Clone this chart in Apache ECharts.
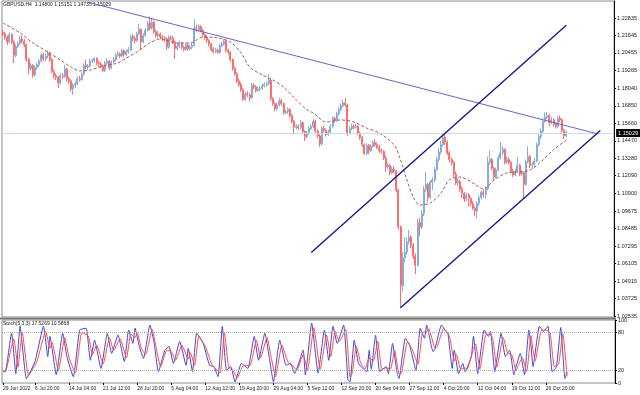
<!DOCTYPE html>
<html><head><meta charset="utf-8">
<script src="https://cdn.jsdelivr.net/npm/echarts@6/dist/echarts.min.js"></script>
<style>html,body{margin:0;padding:0;background:#fff}#c{width:640px;height:395px}</style>
</head><body><div id="c"></div>
<script>
// GBPUSD H4 candles, grouped two H4 bars per candle (29 Jun 2022 16:00 .. 1 Nov 2022)
const opens=[1.2185,1.2175,1.2150,1.2120,1.2170,1.2120,1.2030,1.2090,1.2110,1.2140,
1.2125,1.2100,1.2000,1.1940,1.1960,1.1895,1.1945,1.1965,1.1990,1.2030,
1.2005,1.2025,1.2045,1.2000,1.1920,1.1890,1.1880,1.1840,1.1890,1.1885,
1.1935,1.1870,1.1855,1.1800,1.1825,1.1835,1.1870,1.1865,1.1900,1.1960,
1.1950,1.1955,1.1990,1.1995,1.2010,1.1975,1.1970,1.1955,1.1925,1.1975,
1.1990,1.1945,1.1985,1.2000,1.2030,1.2040,1.2025,1.2060,1.2035,1.2055,
1.2065,1.2155,1.2145,1.2130,1.2175,1.2205,1.2120,1.2165,1.2200,1.2250,
1.2215,1.2255,1.2190,1.2165,1.2175,1.2155,1.2145,1.2140,1.2085,1.2150,
1.2145,1.2120,1.2075,1.2090,1.2115,1.2085,1.2070,1.2100,1.2075,1.2085,
1.2100,1.2215,1.2205,1.2225,1.2200,1.2170,1.2150,1.2130,1.2105,1.2070,
1.2055,1.2065,1.2050,1.2095,1.2105,1.2125,1.2065,1.2050,1.2000,1.1940,
1.1905,1.1855,1.1830,1.1795,1.1730,1.1765,1.1760,1.1740,1.1825,1.1815,
1.1790,1.1800,1.1805,1.1820,1.1830,1.1835,1.1860,1.1735,1.1700,1.1665,
1.1690,1.1720,1.1700,1.1640,1.1645,1.1660,1.1620,1.1580,1.1540,1.1545,
1.1535,1.1570,1.1510,1.1475,1.1500,1.1530,1.1545,1.1580,1.1515,1.1480,
1.1425,1.1530,1.1520,1.1490,1.1505,1.1545,1.1600,1.1585,1.1630,1.1660,
1.1685,1.1705,1.1690,1.1500,1.1530,1.1545,1.1540,1.1545,1.1500,1.1470,
1.1420,1.1360,1.1415,1.1380,1.1410,1.1435,1.1420,1.1405,1.1380,1.1375,
1.1330,1.1270,1.1280,1.1230,1.1255,1.1240,1.1110,1.0860,1.0460,1.0650,
1.0690,1.0760,1.0790,1.0735,1.0660,1.0600,1.0890,1.0860,1.0950,1.1115,
1.1150,1.1060,1.1165,1.1180,1.1250,1.1320,1.1370,1.1420,1.1470,1.1440,
1.1365,1.1320,1.1300,1.1220,1.1160,1.1170,1.1120,1.1090,1.1050,1.1080,
1.1055,1.1020,1.0990,1.0970,1.1020,1.1060,1.1095,1.1080,1.1120,1.1300,
1.1320,1.1260,1.1200,1.1250,1.1330,1.1365,1.1390,1.1300,1.1320,1.1300,
1.1240,1.1215,1.1240,1.1280,1.1220,1.1230,1.1150,1.1305,1.1340,1.1280,
1.1285,1.1310,1.1420,1.1475,1.1510,1.1580,1.1610,1.1620,1.1570,1.1590,
1.1560,1.1545,1.1600,1.1590,1.1520,1.1480];
const closes=[1.2175,1.2150,1.2120,1.2170,1.2120,1.2030,1.2090,1.2110,1.2140,1.2125,
1.2100,1.2000,1.1940,1.1960,1.1895,1.1945,1.1965,1.1990,1.2030,1.2005,
1.2025,1.2045,1.2000,1.1920,1.1890,1.1880,1.1840,1.1890,1.1885,1.1935,
1.1870,1.1855,1.1800,1.1825,1.1835,1.1870,1.1865,1.1900,1.1960,1.1950,
1.1955,1.1990,1.1995,1.2010,1.1975,1.1970,1.1955,1.1925,1.1975,1.1990,
1.1945,1.1985,1.2000,1.2030,1.2040,1.2025,1.2060,1.2035,1.2055,1.2065,
1.2155,1.2145,1.2130,1.2175,1.2205,1.2120,1.2165,1.2200,1.2250,1.2215,
1.2255,1.2190,1.2165,1.2175,1.2155,1.2145,1.2140,1.2085,1.2150,1.2145,
1.2120,1.2075,1.2090,1.2115,1.2085,1.2070,1.2100,1.2075,1.2085,1.2100,
1.2215,1.2205,1.2225,1.2200,1.2170,1.2150,1.2130,1.2105,1.2070,1.2055,
1.2065,1.2050,1.2095,1.2105,1.2125,1.2065,1.2050,1.2000,1.1940,1.1905,
1.1855,1.1830,1.1795,1.1730,1.1765,1.1760,1.1740,1.1825,1.1815,1.1790,
1.1800,1.1805,1.1820,1.1830,1.1835,1.1860,1.1735,1.1700,1.1665,1.1690,
1.1720,1.1700,1.1640,1.1645,1.1660,1.1620,1.1580,1.1540,1.1545,1.1535,
1.1570,1.1510,1.1475,1.1500,1.1530,1.1545,1.1580,1.1515,1.1480,1.1425,
1.1530,1.1520,1.1490,1.1505,1.1545,1.1600,1.1585,1.1630,1.1660,1.1685,
1.1705,1.1690,1.1500,1.1530,1.1545,1.1540,1.1545,1.1500,1.1470,1.1420,
1.1360,1.1415,1.1380,1.1410,1.1435,1.1420,1.1405,1.1380,1.1375,1.1330,
1.1270,1.1280,1.1230,1.1255,1.1240,1.1110,1.0860,1.0460,1.0650,1.0690,
1.0760,1.0790,1.0735,1.0660,1.0600,1.0890,1.0860,1.0950,1.1115,1.1150,
1.1060,1.1165,1.1180,1.1250,1.1320,1.1370,1.1420,1.1470,1.1440,1.1365,
1.1320,1.1300,1.1220,1.1160,1.1170,1.1120,1.1090,1.1050,1.1080,1.1055,
1.1020,1.0990,1.0970,1.1020,1.1060,1.1095,1.1080,1.1120,1.1300,1.1320,
1.1260,1.1200,1.1250,1.1330,1.1365,1.1390,1.1300,1.1320,1.1300,1.1240,
1.1215,1.1240,1.1280,1.1220,1.1230,1.1150,1.1305,1.1340,1.1280,1.1285,
1.1310,1.1420,1.1475,1.1510,1.1580,1.1610,1.1620,1.1570,1.1590,1.1560,
1.1545,1.1600,1.1590,1.1520,1.1480,1.15029];
const highs=[1.2200,1.2190,1.2165,1.2185,1.2180,1.2130,1.2105,1.2125,1.2160,1.2165,
1.2140,1.2110,1.2015,1.1975,1.1970,1.1960,1.1980,1.2005,1.2045,1.2045,
1.2040,1.2062,1.2055,1.2010,1.1935,1.1905,1.1890,1.1905,1.1910,1.1965,
1.1945,1.1885,1.1865,1.1840,1.1850,1.1885,1.1890,1.1915,1.1975,1.2000,
1.1970,1.2005,1.2005,1.2015,1.2015,1.1990,1.1985,1.1965,1.1990,1.2010,
1.1995,1.1995,1.2015,1.2045,1.2060,1.2050,1.2075,1.2070,1.2070,1.2085,
1.2170,1.2175,1.2160,1.2190,1.2245,1.2215,1.2180,1.2215,1.2265,1.2293,
1.2285,1.2265,1.2200,1.2195,1.2185,1.2170,1.2160,1.2150,1.2165,1.2165,
1.2160,1.2130,1.2105,1.2130,1.2120,1.2095,1.2115,1.2110,1.2100,1.2115,
1.2276,1.2235,1.2240,1.2235,1.2210,1.2180,1.2165,1.2140,1.2115,1.2085,
1.2080,1.2075,1.2110,1.2120,1.2140,1.2135,1.2075,1.2060,1.2010,1.1950,
1.1915,1.1870,1.1845,1.1805,1.1780,1.1785,1.1775,1.1840,1.1840,1.1825,
1.1815,1.1820,1.1835,1.1845,1.1850,1.1900,1.1870,1.1745,1.1710,1.1705,
1.1740,1.1735,1.1710,1.1660,1.1675,1.1670,1.1630,1.1590,1.1560,1.1560,
1.1590,1.1580,1.1520,1.1515,1.1545,1.1560,1.1595,1.1590,1.1525,1.1490,
1.1545,1.1550,1.1530,1.1520,1.1560,1.1615,1.1610,1.1645,1.1675,1.1700,
1.1725,1.1738,1.1700,1.1545,1.1565,1.1560,1.1565,1.1555,1.1510,1.1480,
1.1430,1.1430,1.1425,1.1425,1.1450,1.1460,1.1435,1.1415,1.1395,1.1385,
1.1345,1.1300,1.1290,1.1270,1.1275,1.1250,1.1120,1.0870,1.0690,1.0790,
1.0790,1.0840,1.0805,1.0750,1.0680,1.0915,1.0920,1.0975,1.1140,1.1235,
1.1160,1.1180,1.1200,1.1270,1.1340,1.1395,1.1445,1.1496,1.1490,1.1450,
1.1380,1.1335,1.1310,1.1235,1.1190,1.1180,1.1135,1.1100,1.1095,1.1090,
1.1065,1.1035,1.1000,1.1035,1.1075,1.1110,1.1115,1.1135,1.1340,1.1380,
1.1330,1.1270,1.1265,1.1350,1.1440,1.1410,1.1395,1.1340,1.1335,1.1310,
1.1255,1.1255,1.1335,1.1290,1.1250,1.1240,1.1320,1.1410,1.1350,1.1300,
1.1330,1.1435,1.1490,1.1530,1.1600,1.1640,1.1645,1.1630,1.1610,1.1600,
1.1575,1.1615,1.1620,1.1600,1.1530,1.15151];
const lows=[1.2160,1.2135,1.2100,1.2110,1.2105,1.1976,1.2015,1.2080,1.2100,1.2110,
1.2085,1.1985,1.1900,1.1925,1.1876,1.1885,1.1930,1.1950,1.1980,1.1990,
1.1990,1.2010,1.1985,1.1905,1.1870,1.1860,1.1807,1.1830,1.1870,1.1875,
1.1850,1.1835,1.1780,1.1760,1.1805,1.1825,1.1850,1.1855,1.1890,1.1935,
1.1930,1.1945,1.1975,1.1980,1.1960,1.1950,1.1940,1.1915,1.1915,1.1965,
1.1930,1.1935,1.1975,1.1990,1.2020,1.2010,1.2015,1.2020,1.2025,1.2040,
1.2055,1.2125,1.2110,1.2120,1.2165,1.2064,1.2110,1.2155,1.2190,1.2200,
1.2205,1.2175,1.2150,1.2150,1.2140,1.2125,1.2120,1.2063,1.2075,1.2130,
1.2105,1.2004,1.2060,1.2080,1.2070,1.2055,1.2060,1.2060,1.2065,1.2070,
1.2090,1.2190,1.2190,1.2185,1.2155,1.2135,1.2115,1.2090,1.2055,1.2040,
1.2045,1.2040,1.2040,1.2085,1.2095,1.2050,1.2035,1.1985,1.1925,1.1890,
1.1840,1.1815,1.1780,1.1717,1.1720,1.1745,1.1717,1.1730,1.1800,1.1775,
1.1780,1.1785,1.1795,1.1810,1.1815,1.1825,1.1720,1.1685,1.1648,1.1655,
1.1680,1.1685,1.1625,1.1625,1.1630,1.1605,1.1565,1.1500,1.1525,1.1520,
1.1525,1.1495,1.1444,1.1460,1.1490,1.1520,1.1535,1.1500,1.1465,1.1406,
1.1415,1.1505,1.1475,1.1480,1.1495,1.1535,1.1570,1.1575,1.1620,1.1650,
1.1675,1.1680,1.1480,1.1490,1.1520,1.1525,1.1530,1.1485,1.1455,1.1405,
1.1351,1.1350,1.1355,1.1370,1.1400,1.1405,1.1390,1.1365,1.1360,1.1315,
1.1235,1.1255,1.1212,1.1220,1.1225,1.1095,1.0840,1.0310,1.0420,1.0620,
1.0670,1.0740,1.0715,1.0640,1.0539,1.0590,1.0800,1.0845,1.0935,1.1100,
1.1030,1.1050,1.1110,1.1165,1.1240,1.1305,1.1355,1.1410,1.1420,1.1350,
1.1300,1.1280,1.1200,1.1145,1.1140,1.1100,1.1055,1.1030,1.1035,1.1000,
1.1000,1.0975,1.0935,1.0924,1.1005,1.1045,1.1060,1.1055,1.1110,1.1285,
1.1245,1.1180,1.1190,1.1240,1.1320,1.1350,1.1285,1.1290,1.1285,1.1225,
1.1200,1.1205,1.1230,1.1205,1.1205,1.1050,1.1140,1.1295,1.1260,1.1255,
1.1270,1.1300,1.1410,1.1460,1.1500,1.1570,1.1595,1.1545,1.1560,1.1545,
1.1530,1.1535,1.1575,1.1505,1.1460,1.14735];

// dashed moving average, read at points [candle index, price]
const maLine=[[0,1.2250],[8,1.2182],[14,1.2114],[21,1.2052],[27,1.1997],[32,1.1950],[36,1.1923],[41,1.1929],[47,1.1956],[54,1.1977],[58,1.2011],[63,1.2052],[69,1.2113],[74,1.2141],[82,1.2113],[88,1.2113],[94,1.2154],[101,1.2148],[107,1.2120],[112,1.2045],[116,1.1950],[122,1.1895],[127,1.1861],[132,1.1813],[138,1.1725],[143,1.1657],[146,1.1636],[152,1.1575],[159,1.1589],[165,1.1575],[171,1.1534],[177,1.1500],[184,1.1419],[187,1.1317],[190,1.1180],[193,1.1064],[196,1.1010],[201,1.1023],[206,1.1091],[210,1.1180],[215,1.1200],[221,1.1160],[226,1.1119],[231,1.1180],[237,1.1228],[243,1.1235],[248,1.1248],[253,1.1303],[259,1.1385],[265,1.1453]];

// Stochastic(5,3,3): %K (blue) and %D (red), read at turning points [candle index, value]
const stochK=[[0,18],[1,18],[4,79],[6,15],[8,90],[11,7],[15,34],[19,90],[21,42],[22,74],[25,13],[28,79],[30,42],[33,10],[36,84],[39,87],[41,36],[43,68],[46,23],[49,79],[51,47],[54,76],[57,34],[59,84],[61,63],[62,87],[64,58],[66,39],[69,92],[71,63],[73,18],[76,52],[78,58],[80,31],[83,66],[86,28],[87,55],[89,18],[91,79],[94,63],[97,28],[99,26],[101,10],[103,90],[105,20],[107,26],[109,2],[112,31],[115,23],[118,74],[120,36],[123,79],[125,42],[127,2],[130,68],[133,28],[135,31],[137,15],[141,52],[142,13],[145,95],[148,16],[151,84],[153,36],[155,90],[157,63],[160,92],[162,5],[163,2],[165,68],[167,31],[170,20],[171,18],[172,52],[173,22],[175,76],[177,18],[180,26],[181,15],[183,63],[185,18],[186,7],[189,71],[191,60],[194,20],[196,87],[198,71],[199,92],[202,50],[203,55],[206,92],[208,82],[209,79],[211,23],[212,52],[214,15],[216,31],[217,18],[220,42],[221,74],[223,15],[226,84],[228,74],[229,82],[231,18],[234,79],[236,42],[238,52],[240,13],[241,26],[243,47],[245,13],[247,84],[248,60],[249,26],[252,90],[254,82],[256,90],[258,18],[260,26],[262,88],[264,7],[265,17.5269]];
const stochD=[[0,20],[1,18],[5,70],[7,25],[9,80],[12,12],[16,35],[20,82],[22,55],[23,65],[26,20],[29,72],[31,40],[34,16],[37,80],[40,75],[42,45],[44,60],[47,30],[50,72],[52,52],[55,70],[58,40],[60,78],[62,72],[63,80],[65,55],[67,45],[70,85],[72,55],[74,26],[77,52],[79,50],[81,36],[84,60],[87,38],[88,48],[90,28],[92,74],[95,58],[98,30],[100,22],[102,16],[104,80],[106,25],[108,20],[110,8],[113,28],[116,28],[119,68],[121,40],[124,72],[126,40],[128,10],[131,60],[134,32],[136,28],[138,20],[141,45],[143,20],[146,88],[149,22],[152,76],[154,42],[156,82],[158,66],[161,85],[163,10],[164,15],[166,58],[168,32],[170,22],[172,40],[174,35],[176,66],[178,22],[180,24],[182,22],[184,52],[186,15],[187,15],[190,66],[192,55],[195,30],[197,80],[199,82],[200,86],[203,55],[204,58],[207,86],[209,80],[210,70],[212,35],[213,45],[215,22],[217,24],[218,22],[221,55],[222,62],[224,22],[227,78],[229,76],[230,72],[232,25],[235,72],[237,48],[239,45],[241,20],[242,28],[244,40],[246,18],[248,75],[249,52],[250,35],[253,84],[255,84],[257,80],[259,26],[261,30],[263,78],[265,10.5868]];

// drawn trend lines: [[candle index, price],[candle index, price]]
const trendPurple=[[40,1.2391],[280,1.1493]];
const channelUpper=[[145,1.0686],[265,1.2234]];
const channelLower=[[187,1.0310],[281,1.1517]];
const lastPrice=1.15029;

const tickIdx=[0,15,31,47,63,79,95,111,127,143,159,175,191,207,223,239,255];
const tickText=['29 Jun 2022','6 Jul 20:00','14 Jul 04:00','21 Jul 12:00','28 Jul 20:00','5 Aug 04:00','12 Aug 12:00','19 Aug 20:00','29 Aug 04:00','5 Sep 12:00','12 Sep 20:00','20 Sep 04:00','27 Sep 12:00','4 Oct 20:00','12 Oct 04:00','19 Oct 12:00','26 Oct 20:00'];
const priceTicks=[1.22835,1.21645,1.20455,1.19265,1.18040,1.16850,1.15660,1.14470,1.13280,1.12090,1.10900,1.09675,1.08485,1.07295,1.06105,1.04915,1.03725,1.02535];
const stochTicks=[0,20,80,100];
const stochLevels=[20,80];
const headerText='GBPUSD,H4  1.14800 1.15151 1.14735 1.15029';
const stochTitle='Stoch(5,3,3) 17.5269 10.5868';

const N=288; // candle slots incl. chart shift
const cats=Array.from({length:N},(_,i)=>String(i));
const candleData=cats.map((c,i)=> i<closes.length ? [opens[i],closes[i],lows[i],highs[i]] : '-');
const FONT='"Liberation Sans", Arial, sans-serif';
const isTick=(i)=>tickIdx.indexOf(i)>=0;
const seg=(pts,color,w)=>[{coord:[pts[0][0],pts[0][1]],lineStyle:{color:color,width:w,type:'solid'}},{coord:[pts[1][0],pts[1][1]]}];

const chart=echarts.init(document.getElementById('c'),null,{renderer:'canvas'});
chart.setOption({
  animation:false,
  backgroundColor:'#fff',
  textStyle:{fontFamily:FONT},
  grid:[
    {left:2,width:613,top:1,height:316,show:true,borderColor:'#8c8c8c',borderWidth:1,containLabel:false},
    {left:2,width:613,top:320,height:63,show:true,borderColor:'#8c8c8c',borderWidth:1,containLabel:false}
  ],
  xAxis:[
    {type:'category',gridIndex:0,data:cats,show:false,boundaryGap:true},
    {type:'category',gridIndex:1,data:cats,boundaryGap:true,
     axisLine:{show:false},
     axisTick:{show:true,interval:(i)=>isTick(i),alignWithLabel:true,length:2,lineStyle:{color:'#000'}},
     axisLabel:{show:true,interval:(i)=>isTick(i),align:'left',fontSize:5,color:'#222',margin:3,fontFamily:FONT,
       formatter:(v)=>tickText[tickIdx.indexOf(Number(v))]||''},
     splitLine:{show:false}}
  ],
  yAxis:[
    {type:'value',gridIndex:0,position:'right',min:1.02467,max:1.23993,
     axisLine:{show:true,lineStyle:{color:'#000'}},
     axisTick:{show:true,length:2,customValues:priceTicks,lineStyle:{color:'#000'}},
     axisLabel:{show:true,customValues:priceTicks,fontSize:5.5,color:'#222',margin:3,fontFamily:FONT,formatter:(v)=>v.toFixed(5)},
     splitLine:{show:false}},
    {type:'value',gridIndex:1,position:'right',min:0,max:100,
     axisLine:{show:true,lineStyle:{color:'#000'}},
     axisTick:{show:true,length:2,customValues:stochTicks,lineStyle:{color:'#000'}},
     axisLabel:{show:true,customValues:stochTicks,fontSize:5.5,color:'#222',margin:3,fontFamily:FONT},
     splitLine:{show:false}}
  ],
  series:[
    {type:'candlestick',xAxisIndex:0,yAxisIndex:0,data:candleData,barWidth:1.5,
     itemStyle:{color:'#86aed8',color0:'#ff6e6e',borderColor:'#86aed8',borderColor0:'#ff6e6e',borderWidth:1},
     markLine:{silent:true,symbol:['none','none'],animation:false,
       data:[
         {yAxis:lastPrice,lineStyle:{color:'#c4deec',width:1,type:'solid'},
          label:{show:true,position:'end',distance:2,formatter:lastPrice.toFixed(5),color:'#fff',backgroundColor:'#000',padding:[1,2,1,2],fontSize:5.5,fontFamily:FONT}},
         seg(trendPurple,'#6b63c9',1),
         seg(channelUpper,'#10108a',1.3),
         seg(channelLower,'#10108a',1.3)
       ],
       label:{show:false}}
    },
    {type:'line',xAxisIndex:0,yAxisIndex:0,data:maLine,showSymbol:false,smooth:0.3,
     lineStyle:{color:'#a85a52',width:1,type:[3,2]},z:3},
    {type:'line',xAxisIndex:1,yAxisIndex:1,data:stochK,showSymbol:false,smooth:0.15,
     lineStyle:{color:'#4545d6',width:1}},
    {type:'line',xAxisIndex:1,yAxisIndex:1,data:stochD,showSymbol:false,smooth:0.15,
     lineStyle:{color:'#ff4a4a',width:1},
     markLine:{silent:true,symbol:['none','none'],label:{show:false},
       lineStyle:{color:'#a8a8a8',width:1,type:'dotted'},
       data:stochLevels.map(v=>({yAxis:v}))}}
  ],
  graphic:[
    {type:'line',shape:{x1:0,y1:318.5,x2:616,y2:318.5},style:{stroke:'#7a7a7a',lineWidth:2},silent:true},
    {type:'text',left:3,top:2,style:{text:headerText,fontSize:5,fill:'#222',fontFamily:FONT}},
    {type:'text',left:3,top:321,style:{text:stochTitle,fontSize:5,fill:'#222',fontFamily:FONT}}
  ]
});
</script></body></html>
